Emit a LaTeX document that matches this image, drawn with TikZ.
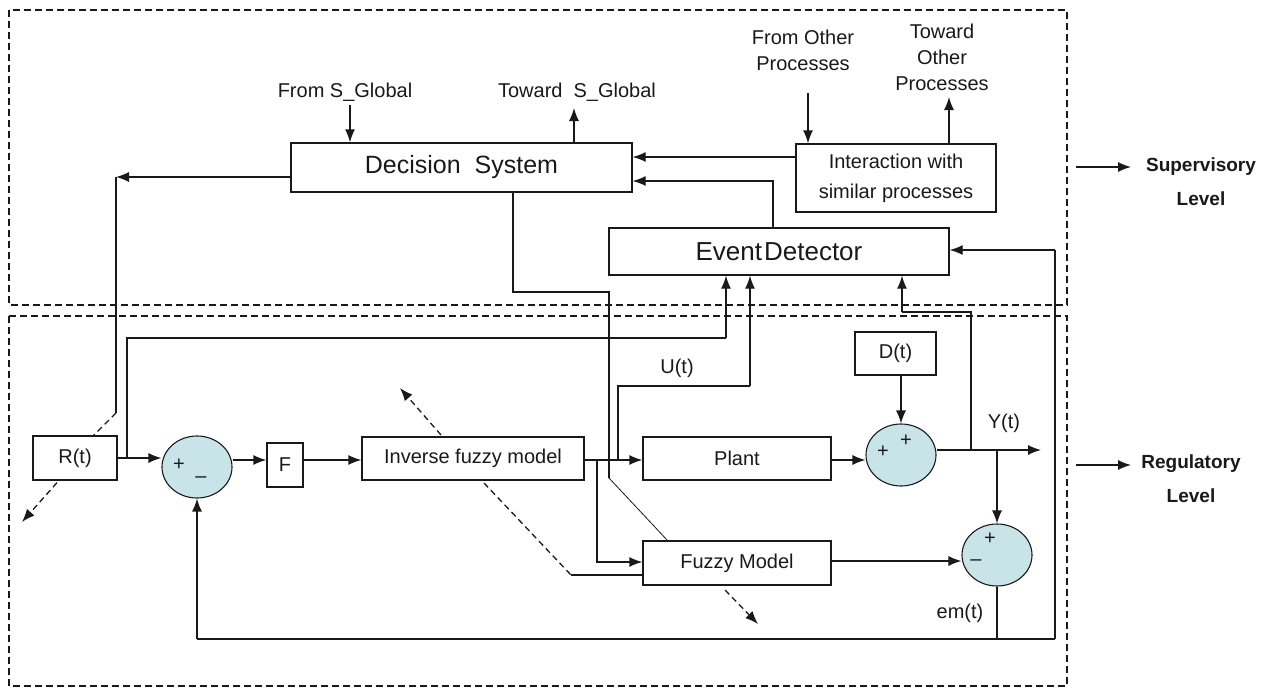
\documentclass[tikz,border=0pt]{standalone}
\usepackage{fontspec}
\setmainfont{Liberation Sans}
\usetikzlibrary{arrows.meta,shapes.geometric,calc}
\definecolor{sumfill}{RGB}{200,228,232}
\definecolor{ink}{RGB}{25,25,25}
\begin{document}
\begin{tikzpicture}[x=1pt,y=-1pt,
  every node/.style={text=ink},
  blk/.style={draw=ink, line width=1.3pt, inner sep=0pt, font=\fontsize{20}{24}\selectfont},
  bigblk/.style={draw=ink, line width=1.3pt, inner sep=0pt, font=\fontsize{25}{28}\selectfont},
  sumn/.style={ellipse, draw=ink, line width=1.1pt, fill=sumfill, minimum width=70pt, minimum height=62pt, inner sep=0pt},
  arr/.style={draw=ink, line width=1.3pt, -{Latex[length=13pt,width=10pt]}},
  ln/.style={draw=ink, line width=1.3pt},
  thin/.style={draw=ink, line width=0.8pt},
  dsh/.style={draw=ink, line width=1.3pt, dash pattern=on 6pt off 4pt},
  dsharr/.style={draw=ink, line width=1.3pt, dash pattern=on 6pt off 4pt, -{Latex[length=13pt,width=10pt]}},
  region/.style={draw=ink, line width=1.2pt, dash pattern=on 7pt off 4pt},
  lbl/.style={font=\fontsize{20}{26}\selectfont, inner sep=0pt, align=center},
  sgn/.style={font=\fontsize{20}{20}\selectfont, inner sep=0pt},
  lvl/.style={font=\bfseries\fontsize{19}{34}\selectfont, inner sep=0pt, align=center}
]
\useasboundingbox (0,0) rectangle (1264,688);

% regions
\draw[region] (9,10) rectangle (1067,305);
\draw[region] (9,316) rectangle (1067,686);

% nodes
\node[bigblk, minimum width=341pt, minimum height=49pt] (dec) at (461.5,167.5) {Decision\ \ System};
\node[blk, minimum width=200pt, minimum height=68pt, align=center, font=\fontsize{20}{30}\selectfont] (inter) at (896,178) {Interaction with\\similar processes};
\node[bigblk, minimum width=340pt, minimum height=47pt, font=\fontsize{26}{28}\selectfont] (ev) at (779,251.5) {Event\hspace{2pt}Detector};
\node[blk, minimum width=84pt, minimum height=44pt] (R) at (75,458) {R(t)};
\node[sumn] (s1) at (197,467) {};
\node[blk, minimum width=36pt, minimum height=44pt] (F) at (285,465) {F};
\node[blk, minimum width=222pt, minimum height=43pt] (inv) at (473,458.5) {Inverse fuzzy model};
\node[blk, minimum width=188pt, minimum height=43pt] (plant) at (737,458.5) {Plant};
\node[blk, minimum width=188pt, minimum height=44pt] (fm) at (737,563) {Fuzzy Model};
\node[blk, minimum width=81pt, minimum height=43pt] (Dt) at (895.5,353.5) {D(t)};
\node[sumn] (s2) at (901,455) {};
\node[sumn] (s3) at (997,555) {};

% signs
\node[sgn] at ($(s1)+(-18,-2)$) {+};
\node[sgn] at ($(s1)+(4,13)$) {–};
\node[sgn] at ($(s2)+(-18,-3)$) {+};
\node[sgn] at ($(s2)+(5,-14)$) {+};
\node[sgn] at ($(s3)+(-7,-16)$) {+};
\node[sgn] at ($(s3)+(-21,8)$) {–};

% labels
\node[lbl] (lfs) at (345,92) {From S\_Global};
\node[lbl] (lts) at (577,92) {Toward\ \ S\_Global};
\node[lbl] (lfo) at (803,50) {From Other\\Processes};
\node[lbl] (lto) at (942,57) {Toward\\Other\\Processes};
\node[lbl] (lu) at (677,368) {U(t)};
\node[lbl] (ly) at (1004,423) {Y(t)};
\node[lbl] (lem) at (960,613) {em(t)};
\node[lvl] (lsup) at (1201,182) {Supervisory\\Level};
\node[lvl] (lreg) at (1191,479) {Regulatory\\Level};

% coordinates
\coordinate (yl) at (0,460);
\coordinate (c1) at (116,177);
\coordinate (c2) at (116,413);
\coordinate (c3) at (93,436);
\coordinate (c4) at (127,338);
\coordinate (c5) at (726,338);
\coordinate (c6) at (618,386);
\coordinate (c7) at (750,386);
\coordinate (c8) at (513,292);
\coordinate (c9) at (609,292);
\coordinate (c10) at (609,478);
\coordinate (c11) at (668,541);
\coordinate (c12) at (571,575);
\coordinate (c13) at (484,483);
\coordinate (ybr) at (997,450);
\coordinate (yend) at (1041,450);
\coordinate (bl) at (197,639);
\coordinate (bm) at (997,639);
\coordinate (br) at (1055,639);
\coordinate (bt) at (1055,250);
\coordinate (e1) at (971,450);
\coordinate (e2) at (971,312);
\coordinate (e3) at (902,312);
\coordinate (e4) at (773,181);
\coordinate (fo) at (808,93);
\coordinate (to) at (949,97);
\coordinate (fs) at (350,105);
\coordinate (ts) at (574,108);

% supervisory connectors
\draw[arr] (fs) -- (fs |- dec.north);
\draw[arr] (ts |- dec.north) -- (ts);
\draw[arr] (dec.west |- c1) -- (c1);
\draw[ln] (c1) -- (c2);
\draw[dsh] (c2) -- (c3);
\draw[arr] (fo) -- (fo |- inter.north);
\draw[arr] (to |- inter.north) -- (to);
\draw[arr] (inter.west |- 0,157) -- (dec.east |- 0,157);
\draw[arr] (e4 |- ev.north) -- (e4) -- (dec.east |- e4);

% regulatory
\draw[dsharr] ($(R.south)+(-18,2)$) -- (22,522);
\draw[arr] (R.east) -- (R.east -| s1.west);
\draw[ln] (c4 |- R.east) -- (c4) -- (c5);
\draw[arr] (c5) -- (c5 |- ev.south);
\draw[arr] (s1.east |- yl) -- (F.west |- yl);
\draw[arr] (F.east |- yl) -- (inv.west |- yl);
\draw[arr] (inv.east |- yl) -- (plant.west |- yl);
\draw[arr] (597,460) -- (597,562) -- (fm.west |- 0,562);
\draw[ln] (c6 |- yl) -- (c6) -- (c7);
\draw[arr] (c7) -- (c7 |- ev.south);
\draw[ln] (c8 |- dec.south) -- (c8) -- (c9) -- (c10);
\draw[thin] (c10) -- (c11);
\draw[dsh] (c13) -- (c12);
\draw[ln] (c12) -- (fm.west |- c12);
\draw[dsharr] (441,435) -- (400,388);
\draw[dsharr] (725,590) -- (758,624);
\draw[arr] (plant.east |- yl) -- (s2.west |- yl);
\draw[arr] (s2.north |- Dt.south) -- (s2.north);
\draw[arr] (s2.east |- ybr) -- (yend);
\draw[arr] (ybr) -- (s3.north);
\draw[arr] (fm.east |- 0,561) -- (s3.west |- 0,561);
\draw[ln] (s3.south) -- (bm);
\draw[ln] (br) -- (bl);
\draw[arr] (bl) -- (s1.south);
\draw[ln] (br) -- (bt);
\draw[arr] (bt) -- (ev.east |- bt);
\draw[ln] (e1) -- (e2) -- (e3);
\draw[arr] (e3) -- (e3 |- ev.south);

% level arrows
\draw[arr] (1076,167) -- (1131,167);
\draw[arr] (1076,465) -- (1131,465);
\end{tikzpicture}
\end{document}
